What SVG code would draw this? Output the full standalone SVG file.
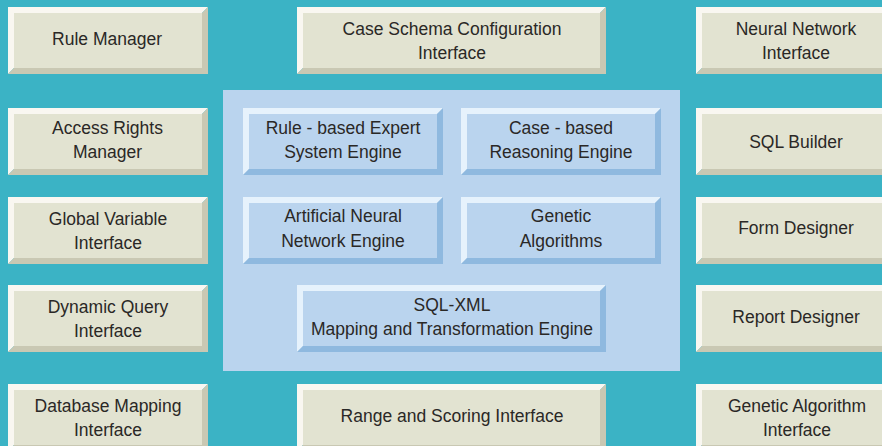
<svg xmlns="http://www.w3.org/2000/svg" width="882" height="446" viewBox="0 0 882 446">
<style>
text{font-family:"Liberation Sans",Arial,sans-serif;font-size:17.5px;fill:#2a2826;text-anchor:middle}
.bg{fill:#3bb3c5}
.al{fill:#f9f7f1}.ad{fill:#c9c8b3}.af{fill:#e2e3d1}
.bl{fill:#e6f2fc}.bd{fill:#8fb9df}.bf{fill:#bad4ee}
</style>
<defs>
<g id="a200"><path class="al" d="M0 0H200L194 6H6V61L0 67Z"/><path class="ad" d="M200 0V67H0L6 61H194V6Z"/><rect class="af" x="6" y="6" width="188" height="55"/></g>
<g id="a309"><path class="al" d="M0 0H309L303 6H6V61L0 67Z"/><path class="ad" d="M309 0V67H0L6 61H303V6Z"/><rect class="af" x="6" y="6" width="297" height="55"/></g>
<g id="b200"><path class="bl" d="M0 0H200L194 6H6V61L0 67Z"/><path class="bd" d="M200 0V67H0L6 61H194V6Z"/><rect class="bf" x="6" y="6" width="188" height="55"/></g>
<g id="b309"><path class="bl" d="M0 0H309L303 6H6V61L0 67Z"/><path class="bd" d="M309 0V67H0L6 61H303V6Z"/><rect class="bf" x="6" y="6" width="297" height="55"/></g>
</defs>
<rect class="bg" width="882" height="446"/>
<rect id="panel" x="223" y="90" width="457" height="281" fill="#bad4ee"/>
<g id="connectors"/>
<g id="rule-manager"><use href="#a200" x="8" y="7"/><text x="107" y="45">Rule Manager</text></g>
<g id="access-rights"><use href="#a200" x="8" y="108"/><text x="107.500" y="134">Access Rights</text><text x="107.500" y="158">Manager</text></g>
<g id="global-variable"><use href="#a200" x="8" y="197"/><text x="108" y="225">Global Variable</text><text x="108" y="249">Interface</text></g>
<g id="dynamic-query"><use href="#a200" x="8" y="285"/><text x="108" y="313">Dynamic Query</text><text x="108" y="337">Interface</text></g>
<g id="database-mapping"><use href="#a200" x="8" y="384"/><text x="108" y="412">Database Mapping</text><text x="108" y="436">Interface</text></g>
<g id="case-schema"><use href="#a309" x="297" y="7"/><text x="452" y="35">Case Schema Configuration</text><text x="452" y="59">Interface</text></g>
<g id="range-scoring"><use href="#a309" x="297" y="384"/><text x="452" y="422">Range and Scoring Interface</text></g>
<g id="neural-network"><use href="#a200" x="696" y="7"/><text x="796" y="35">Neural Network</text><text x="796" y="59">Interface</text></g>
<g id="sql-builder"><use href="#a200" x="696" y="108"/><text x="796" y="148">SQL Builder</text></g>
<g id="form-designer"><use href="#a200" x="696" y="197"/><text x="796" y="234">Form Designer</text></g>
<g id="report-designer"><use href="#a200" x="696" y="285"/><text x="796" y="323">Report Designer</text></g>
<g id="genetic-interface"><use href="#a200" x="696" y="384"/><text x="797" y="412">Genetic Algorithm</text><text x="797" y="436">Interface</text></g>
<g id="rule-engine"><use href="#b200" x="243" y="108"/><text x="343" y="134">Rule - based Expert</text><text x="343" y="158">System Engine</text></g>
<g id="case-engine"><use href="#b200" x="461" y="108"/><text x="561" y="134">Case - based</text><text x="561" y="158">Reasoning Engine</text></g>
<g id="neural-engine"><use href="#b200" x="243" y="197"/><text x="343" y="222">Artificial Neural</text><text x="343" y="247">Network Engine</text></g>
<g id="genetic-algorithms"><use href="#b200" x="461" y="197"/><text x="561" y="222">Genetic</text><text x="561" y="247">Algorithms</text></g>
<g id="sql-xml"><use href="#b309" x="297" y="285"/><text x="452" y="311">SQL-XML</text><text x="452" y="335">Mapping and Transformation Engine</text></g>
</svg>
